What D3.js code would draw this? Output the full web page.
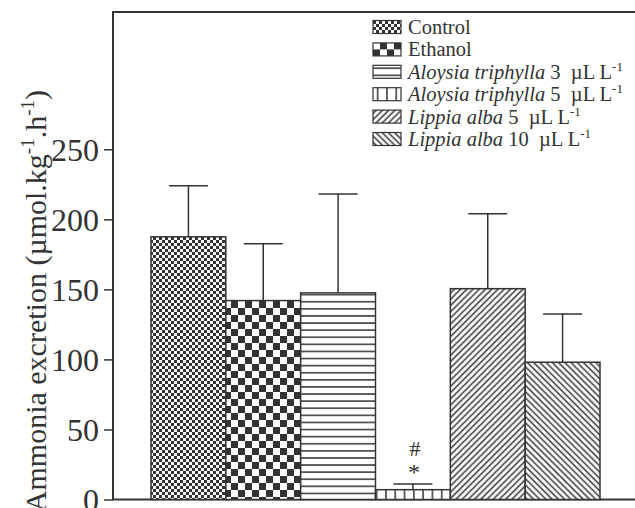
<!DOCTYPE html>
<html>
<head>
<meta charset="utf-8">
<script src="https://cdn.jsdelivr.net/npm/d3@7"></script>
<style>
  body { margin: 0; background: #fff; }
  text { font-family: "Liberation Serif", "Times New Roman", serif; fill: #333; }
</style>
</head>
<body>
<div id="container"></div>
<script>
// groups, means and upper error (mean + SE)
const groups = ["Control", "Ethanol", "AT3", "AT5", "LA5", "LA10"]
const means = [187.5, 142, 147.5, 7, 150.5, 98]
const errTops = [224, 182.5, 218, 11, 204, 132.5]
const starMarks = ["", "", "", "*", "", ""]
const hashMarks = ["", "", "", "#", "", ""]
const patterns = ["checkFine", "checkBig", "hLines", "vLines", "diagUp", "diagDown"]
const yTicks = [0, 50, 100, 150, 200, 250]

// legend labels: [italic species, plain rest, superscript]
const legendItalic = ["", "", "Aloysia triphylla", "Aloysia triphylla", "Lippia alba", "Lippia alba"]
const legendPlain = ["Control", "Ethanol", " 3\u00a0\u00a0\u00b5L L", " 5\u00a0\u00a0\u00b5L L", " 5\u00a0\u00a0\u00b5L L", " 10\u00a0\u00a0\u00b5L L"]
const legendSup = ["", "", "-1", "-1", "-1", "-1"]

const width = 635, height = 508
const ink = "#333"

const svg = d3.select("#container").append("svg")
    .attr("width", width)
    .attr("height", height)

const defs = svg.append("defs")

// fine and coarse checkerboards
function checker(id, s) {
  const p = defs.append("pattern").attr("id", id)
    .attr("patternUnits", "userSpaceOnUse")
    .attr("width", 2 * s).attr("height", 2 * s)
  p.append("rect").attr("width", 2 * s).attr("height", 2 * s).attr("fill", "#fff")
  p.append("rect").attr("width", s).attr("height", s).attr("fill", ink)
  p.append("rect").attr("x", s).attr("y", s).attr("width", s).attr("height", s).attr("fill", ink)
}
checker("checkFine", 3)
checker("checkBig", 7)

function lines(id, step, angle) {
  const p = defs.append("pattern").attr("id", id)
    .attr("patternUnits", "userSpaceOnUse")
    .attr("width", step).attr("height", step)
    .attr("patternTransform", `rotate(${angle})`)
  p.append("rect").attr("width", step).attr("height", step).attr("fill", "#fff")
  p.append("line")
    .attr("x1", 0).attr("x2", step)
    .attr("y1", step / 2).attr("y2", step / 2)
    .attr("stroke", ink).attr("stroke-width", 1.5)
}
lines("hLines", 7.1, 0)
lines("vLines", 9.3, 90)
lines("diagUp", 4.4, -45)
lines("diagDown", 4.4, 45)

const x = d3.scaleBand()
    .domain(groups)
    .range([151, 600])
    .padding(0)

const y = d3.scaleLinear()
    .domain([0, 348])
    .range([499.5, 12])

// frame
svg.append("rect")
    .attr("x", 113).attr("y", y(348))
    .attr("width", 540).attr("height", y(0) - y(348))
    .attr("fill", "none").attr("stroke", ink).attr("stroke-width", 2)

// y axis
svg.append("g")
    .attr("transform", "translate(113,0)")
    .call(d3.axisLeft(y).tickValues(yTicks).tickSize(9).tickPadding(5))
    .call(g => g.select(".domain").remove())
    .call(g => g.selectAll(".tick line").attr("stroke", ink).attr("stroke-width", 1.5))
    .call(g => g.selectAll(".tick text")
      .attr("font-family", "Liberation Serif")
      .attr("font-size", 32)
      .attr("fill", ink)
      .attr("dy", "0.34em"))

const label = svg.append("text")
    .attr("transform", "translate(46,90) rotate(-90)")
    .attr("text-anchor", "end")
    .attr("font-size", 30)
label.append("tspan").text("Ammonia excretion (\u00b5mol.kg")
label.append("tspan").attr("font-size", 19).attr("dy", -12).text("-1")
label.append("tspan").attr("dy", 12).text(".h")
label.append("tspan").attr("font-size", 19).attr("dy", -12).text("-1")
label.append("tspan").attr("dy", 12).text(")")

// error bars (upper only)
const err = svg.append("g").attr("stroke", ink).attr("stroke-width", 1.5)
err.selectAll("line.v")
  .data(groups)
  .join("line")
  .attr("class", "v")
  .attr("x1", d => x(d) + x.bandwidth() / 2)
  .attr("x2", d => x(d) + x.bandwidth() / 2)
  .attr("y1", (d, i) => y(means[i]))
  .attr("y2", (d, i) => y(errTops[i]))
err.selectAll("line.cap")
  .data(groups)
  .join("line")
  .attr("class", "cap")
  .attr("x1", d => x(d) + x.bandwidth() / 2 - 19.5)
  .attr("x2", d => x(d) + x.bandwidth() / 2 + 19.5)
  .attr("y1", (d, i) => y(errTops[i]))
  .attr("y2", (d, i) => y(errTops[i]))

// bars
svg.append("g")
  .selectAll("rect")
  .data(groups)
  .join("rect")
  .attr("x", d => x(d))
  .attr("y", (d, i) => y(means[i]))
  .attr("width", x.bandwidth())
  .attr("height", (d, i) => y(0) - y(means[i]))
  .attr("fill", (d, i) => `url(#${patterns[i]})`)
  .attr("stroke", ink)
  .attr("stroke-width", 1.5)

// significance marks
svg.append("g").selectAll("text")
  .data(groups)
  .join("text")
  .attr("x", d => x(d) + x.bandwidth() / 2 + 1)
  .attr("y", (d, i) => y(errTops[i]) - 4)
  .attr("text-anchor", "middle")
  .attr("font-size", 24)
  .text((d, i) => starMarks[i])
svg.append("g").selectAll("text")
  .data(groups)
  .join("text")
  .attr("x", d => x(d) + x.bandwidth() / 2 + 2)
  .attr("y", (d, i) => y(errTops[i]) - 28)
  .attr("text-anchor", "middle")
  .attr("font-size", 22)
  .text((d, i) => hashMarks[i])

// legend
const legend = svg.append("g").attr("transform", "translate(373,27)")
const rows = legend.selectAll("g")
  .data(groups)
  .join("g")
  .attr("transform", (d, i) => `translate(0,${i * 22.4})`)
rows.append("rect")
  .attr("x", 0).attr("y", -6.5)
  .attr("width", 28).attr("height", 13)
  .attr("fill", (d, i) => `url(#${patterns[i]})`)
  .attr("stroke", ink).attr("stroke-width", 1.2)
const lt = rows.append("text")
  .attr("x", 35)
  .attr("y", 7)
  .attr("font-size", 20.5)
lt.append("tspan").attr("font-style", "italic").text((d, i) => legendItalic[i])
lt.append("tspan").text((d, i) => legendPlain[i])
lt.append("tspan").attr("font-size", 13).attr("dy", -8).text((d, i) => legendSup[i])
</script>
</body>
</html>
